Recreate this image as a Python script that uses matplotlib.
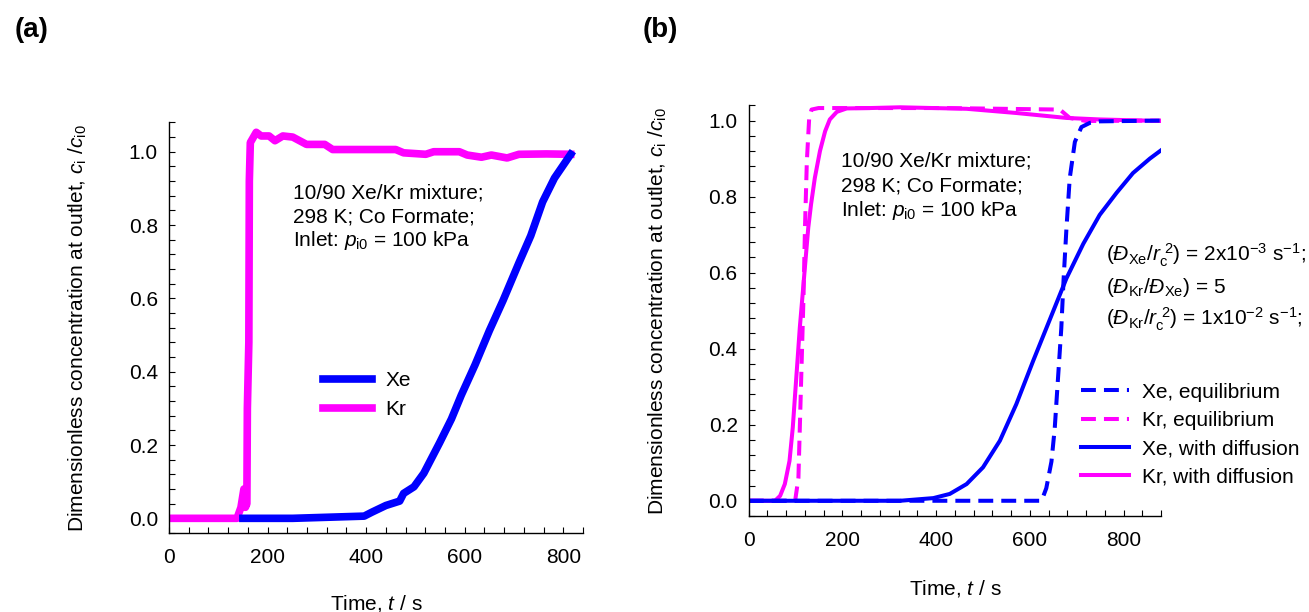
import matplotlib
matplotlib.use("Agg")
import matplotlib.pyplot as plt
from matplotlib.ticker import MultipleLocator

plt.rcParams['font.family'] = ['Liberation Sans', 'DejaVu Sans']
plt.rcParams['mathtext.fontset'] = 'custom'
plt.rcParams['mathtext.rm'] = 'Liberation Sans'
plt.rcParams['mathtext.it'] = 'Liberation Sans:italic'
plt.rcParams['mathtext.bf'] = 'Liberation Sans:bold'

# (a) experimental breakthrough
a_kr_t = [0, 138, 146, 152, 155, 158, 159, 162, 163, 165, 177, 187, 203, 215, 231, 251,
          279, 316, 332, 460, 476, 521, 537, 589, 605, 634, 654, 686, 710, 766, 815]
a_kr_c = [0, 0, 0.03, 0.08, 0.03, 0.04, 0.30, 0.48, 0.92, 1.025, 1.053, 1.043, 1.043, 1.03,
          1.043, 1.04, 1.02, 1.02, 1.006, 1.006, 0.997, 0.993, 1.0, 1.0, 0.991, 0.985,
          0.991, 0.983, 0.993, 0.994, 0.993]
a_xe_t = [150, 251, 396, 412, 440, 468, 476, 497, 517, 549, 573, 593, 621, 650, 678,
          710, 734, 758, 782, 815]
a_xe_c = [0, 0, 0.006, 0.017, 0.035, 0.047, 0.068, 0.086, 0.123, 0.206, 0.271, 0.336,
          0.419, 0.512, 0.595, 0.697, 0.771, 0.863, 0.928, 0.993]

# (b) simulations
b_xe_eq_t = [0, 625, 635, 646, 653, 660, 667, 672, 678, 685, 696, 710, 728, 749, 880]
b_xe_eq_c = [0, 0, 0.033, 0.103, 0.19, 0.322, 0.453, 0.584, 0.716, 0.848, 0.944, 0.983,
             0.994, 0.998, 1.0]
b_kr_eq_t = [0, 99, 106, 109, 113, 117, 120, 124, 129, 134, 149, 420, 664, 685, 720, 880]
b_kr_eq_c = [0, 0, 0.06, 0.193, 0.368, 0.543, 0.718, 0.893, 1.007, 1.029, 1.033, 1.033,
             1.029, 1.007, 0.999, 1.0]
b_xe_df_t = [0, 323, 394, 429, 465, 500, 536, 571, 607, 643, 678, 714, 749, 785, 820, 856, 880]
b_xe_df_c = [0, 0, 0.007, 0.018, 0.044, 0.088, 0.158, 0.254, 0.368, 0.478, 0.585, 0.676,
             0.752, 0.81, 0.862, 0.9, 0.922]
b_kr_df_t = [0, 56, 67, 77, 87, 94, 99, 104, 109, 115, 121, 127, 133, 141, 152, 163, 173,
             188, 209, 259, 323, 465, 571, 678, 749, 880]
b_kr_df_c = [0, 0, 0.013, 0.044, 0.105, 0.193, 0.281, 0.368, 0.456, 0.543, 0.631, 0.718,
             0.78, 0.849, 0.92, 0.972, 1.003, 1.023, 1.032, 1.033, 1.035, 1.031, 1.02,
             1.007, 1.003, 0.999]

BLUE = '#0000FF'
MAG = '#FF00FF'
FS = 15

fig = plt.figure(figsize=(13.09, 6.12), dpi=100)
ax1 = fig.add_axes([0.1291, 0.1291, 0.3163, 0.6709])
ax2 = fig.add_axes([0.5720, 0.1569, 0.3150, 0.6709])

ylab = r'Dimensionless concentration at outlet, $c_{\mathrm{i}}$ /$c_{\mathrm{i0}}$'
xlab = r'Time, $t$ / s'

for ax in (ax1, ax2):
    for s in ('top', 'right'):
        ax.spines[s].set_visible(False)
    for s in ('left', 'bottom'):
        ax.spines[s].set_linewidth(1.0)
    ax.xaxis.set_major_locator(MultipleLocator(200))
    ax.xaxis.set_minor_locator(MultipleLocator(40))
    ax.yaxis.set_major_locator(MultipleLocator(0.2))
    ax.yaxis.set_minor_locator(MultipleLocator(0.04))
    ax.tick_params(which='both', direction='in', length=4.3, width=0.8, labelsize=FS)
    ax.tick_params(axis='x', which='both', pad=11)
    ax.tick_params(axis='y', which='both', pad=8)
    ax.yaxis.set_major_formatter(matplotlib.ticker.FormatStrFormatter('%.1f'))
    ax.set_ylabel(ylab, fontsize=FS)
    ax.set_xlabel(xlab, fontsize=FS)

# panel (a)
ax1.plot(a_kr_t, a_kr_c, color=MAG, lw=5.5, label='Kr', solid_joinstyle='round')
ax1.plot(a_xe_t, a_xe_c, color=BLUE, lw=5.5, label='Xe', solid_joinstyle='round')
ax1.set_xlim(0, 840)
ax1.set_ylim(-0.04, 1.08)
h, l = ax1.get_legend_handles_labels()
ax1.legend(h[::-1], l[::-1], loc='upper left', bbox_to_anchor=(0.373, 0.394), frameon=False,
           fontsize=FS, handlelength=2.32, handletextpad=0.66, labelspacing=0.46,
           borderpad=0, borderaxespad=0)
ax1.yaxis.set_label_coords(-0.193, 0.5)
ax1.xaxis.set_label_coords(0.5, -0.146)
ax1.text(0.2986, 0.8147, '10/90 Xe/Kr mixture;', transform=ax1.transAxes, fontsize=FS, va='baseline')
ax1.text(0.2986, 0.757, '298 K; Co Formate;', transform=ax1.transAxes, fontsize=FS, va='baseline')
ax1.text(0.2986, 0.699, r'Inlet: $p_{\mathrm{i0}}$ = 100 kPa', transform=ax1.transAxes,
         fontsize=FS, va='baseline')

# panel (b)
ax2.plot(b_kr_df_t, b_kr_df_c, color=MAG, lw=2.9, label='Kr, with diffusion')
ax2.plot(b_kr_eq_t, b_kr_eq_c, color=MAG, lw=2.9, ls=(0, (3.7, 2)), label='Kr, equilibrium')
ax2.plot(b_xe_df_t, b_xe_df_c, color=BLUE, lw=2.9, label='Xe, with diffusion')
ax2.plot(b_xe_eq_t, b_xe_eq_c, color=BLUE, lw=2.9, ls=(0, (3.7, 2)), label='Xe, equilibrium')
ax2.set_xlim(0, 880)
ax2.set_ylim(-0.04, 1.04)
h, l = ax2.get_legend_handles_labels()
order = [3, 1, 2, 0]
ax2.legend([h[i] for i in order], [l[i] for i in order], loc='upper left',
           bbox_to_anchor=(0.8055, 0.325), frameon=False, fontsize=FS, handlelength=2.3,
           handletextpad=0.61, labelspacing=0.45, borderpad=0, borderaxespad=0)
ax2.yaxis.set_label_coords(-0.193, 0.5)
ax2.xaxis.set_label_coords(0.5, -0.151)
ax2.text(0.2239, 0.8502, '10/90 Xe/Kr mixture;', transform=ax2.transAxes, fontsize=FS, va='baseline')
ax2.text(0.2239, 0.7898, '298 K; Co Formate;', transform=ax2.transAxes, fontsize=FS, va='baseline')
ax2.text(0.2239, 0.7318, r'Inlet: $p_{\mathrm{i0}}$ = 100 kPa', transform=ax2.transAxes,
         fontsize=FS, va='baseline')
ax2.text(0.8667, 0.6193, r'($\mathit{Đ}_{\mathrm{Xe}}$/$r_{\mathrm{c}}^{\ 2}$) = 2x10$^{-3}$ s$^{-1}$;',
         transform=ax2.transAxes, fontsize=FS, va='baseline')
ax2.text(0.8667, 0.5424, r'($\mathit{Đ}_{\mathrm{Kr}}$/$\mathit{Đ}_{\mathrm{Xe}}$) = 5',
         transform=ax2.transAxes, fontsize=FS, va='baseline')
ax2.text(0.8667, 0.4652, r'($\mathit{Đ}_{\mathrm{Kr}}$/$r_{\mathrm{c}}^{\ 2}$) = 1x10$^{-2}$ s$^{-1}$;',
         transform=ax2.transAxes, fontsize=FS, va='baseline')

fig.text(32 / 1309, 1 - 30 / 612, '(a)', fontsize=20, fontweight='bold', ha='center', va='center')
fig.text(660 / 1309, 1 - 30 / 612, '(b)', fontsize=20, fontweight='bold', ha='center', va='center')

fig.savefig('out.png', dpi=100)
